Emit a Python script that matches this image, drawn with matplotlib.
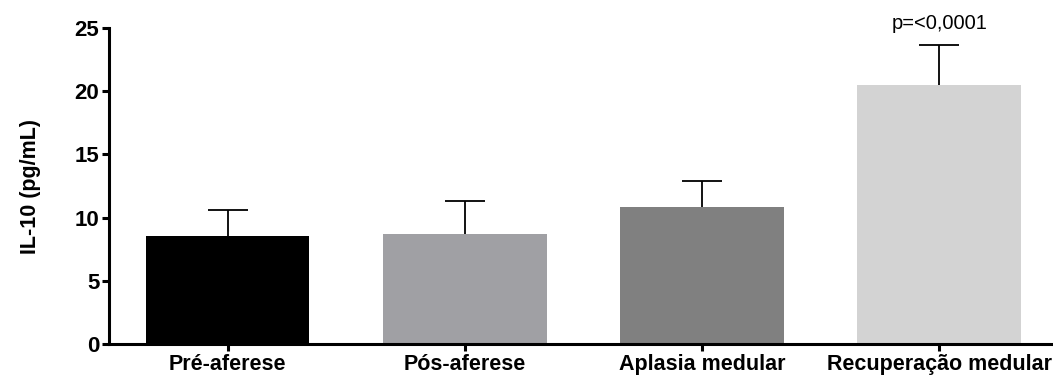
import numpy as np
import matplotlib.pyplot as plt

plt.rcParams['font.family'] = ['Liberation Sans', 'DejaVu Sans']

groups = ['Pré-aferese', 'Pós-aferese', 'Aplasia medular', 'Recuperação medular']
means = [8.55, 8.7, 10.85, 20.5]
upper_err = [2.05, 2.6, 2.05, 3.15]
colors = ['#000000', '#a0a0a4', '#808080', '#d3d3d3']
p_label = 'p=<0,0001'

fig = plt.figure(figsize=(10.53, 3.80), dpi=100)
ax = fig.add_axes([0.1035, 0.095, 0.8965, 0.831])

x = np.arange(len(groups))
ax.bar(x, means, width=0.69, color=colors, zorder=2)
eb = ax.errorbar(x, means, yerr=[np.zeros(len(means)), upper_err], fmt='none',
                 ecolor='black', elinewidth=1.3, capsize=14.5, capthick=1.3, zorder=3)
# only the upper whisker is shown
eb[1][0].set_visible(False)

ax.text(x[3], means[3] + upper_err[3] + 1.0, p_label, ha='center', va='bottom',
        fontsize=14.5, clip_on=False)

ax.set_xlim(-0.5, 3.48)
ax.set_ylim(0, 25)
ax.set_yticks([0, 5, 10, 15, 20, 25])
ax.set_xticks(x)
ax.set_xticklabels(groups, fontsize=15.5, fontweight='bold')
for lbl in ax.get_yticklabels():
    lbl.set_fontsize(16)
    lbl.set_fontweight('bold')
ax.set_ylabel('IL-10 (pg/mL)', fontsize=15.5, fontweight='bold', labelpad=24)

for side in ['top', 'right']:
    ax.spines[side].set_visible(False)
for side in ['left', 'bottom']:
    ax.spines[side].set_linewidth(2.2)
ax.tick_params(axis='both', width=2.2, length=5, direction='out', pad=2)

fig.savefig('out.png', dpi=100)
